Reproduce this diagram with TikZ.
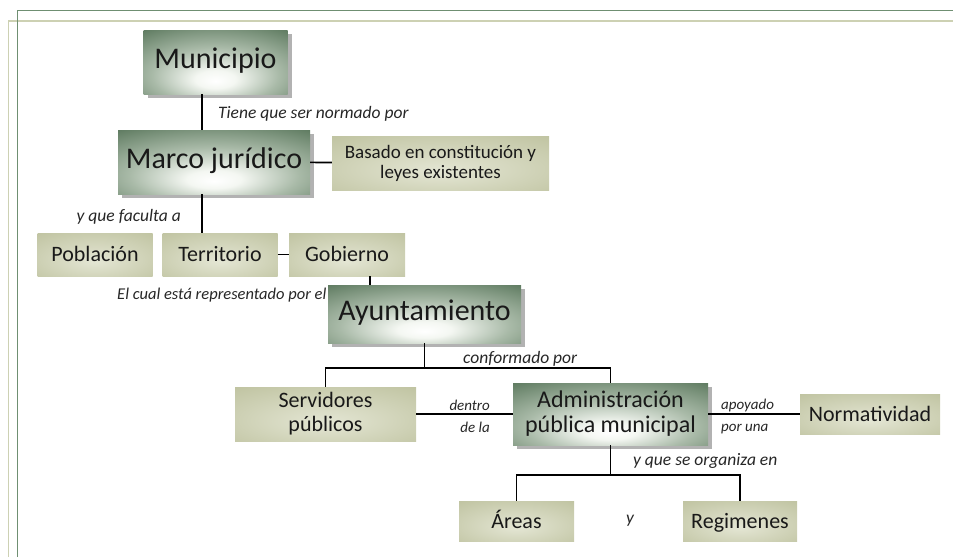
\documentclass[tikz,border=0pt]{standalone}
\usepackage{fontspec}
\setmainfont{Carlito}
\usetikzlibrary{shadows}

\definecolor{deepgreen}{HTML}{466649}
\definecolor{midgreen}{HTML}{A9BAA8}
\definecolor{glowgreen}{HTML}{F4F7F2}
\definecolor{olive}{HTML}{B7BB95}
\definecolor{glowolive}{HTML}{E4E6D4}
\definecolor{framedarkc}{HTML}{6F8F72}
\definecolor{framelightc}{HTML}{CDD1B3}

\pgfdeclareradialshading{greenglow}{\pgfpoint{0bp}{-15bp}}{color(0bp)=(white); color(7bp)=(glowgreen); color(22bp)=(midgreen); color(47bp)=(deepgreen); color(75bp)=(deepgreen)}
\pgfdeclareradialshading{oliveglow}{\pgfpoint{0bp}{-8bp}}{color(0bp)=(glowolive); color(48bp)=(olive); color(75bp)=(olive)}

\tikzset{
		dark/.style={shade, shading=greenglow, inner sep=2pt, text=black!90, align=center,
			drop shadow={shadow xshift=4pt, shadow yshift=-4pt, opacity=0.3, fill=black}},
		light/.style={shade, shading=oliveglow, inner sep=2pt, text=black!90, align=center,
			font=\fontsize{22}{24}\selectfont},
		short/.style={light, text height=16pt, text depth=2pt},
		big/.style={font=\fontsize{30}{32}\selectfont, text height=20pt, text depth=7pt},
		note/.style={font=\fontsize{17.5}{19}\selectfont\itshape, text=black!85, inner sep=0pt},
		link/.style={black, line width=1.6pt},
		framedark/.style={framedarkc, line width=1.8pt},
		framelight/.style={framelightc, line width=1.6pt}
	}

\begin{document}
\begin{tikzpicture}[x=1pt, y=-1pt]
	
	\useasboundingbox (0,0) rectangle (953,557);
	
	\draw[framelight] (8.5,557) |- (953,21);
	\draw[framedark] (17.5,557) |- (953,10.5);
	
	\node (muni) at (215.5,62) [dark, big, minimum width=144pt, minimum height=64pt] {Municipio};
	\node (marco) at (214,162) [dark, big, minimum width=192pt, minimum height=64pt] {Marco jurídico};
	\node (basado) at (440.5,163) [light, minimum width=217pt, minimum height=54pt, font=\fontsize{19}{20}\selectfont] {Basado en constitución y\\leyes existentes};
	
	\node (pobl) at (95,254.5) [short, minimum width=115pt, minimum height=43pt] {Población};
	\node (terr) at (220,254.5) [short, minimum width=115pt, minimum height=43pt] {Territorio};
	\node (gob) at (347,254.5) [short, minimum width=116pt, minimum height=43pt] {Gobierno};
	
	\node (ayunt) at (424.5,314) [dark, big, minimum width=193pt, minimum height=58pt] {Ayuntamiento};
	
	\node (serv) at (325.5,414) [light, minimum width=181pt, minimum height=54pt] {Servidores\\públicos};
	\node (admin) at (610.5,414) [dark, minimum width=195pt, minimum height=62pt, font=\fontsize{24}{25}\selectfont] {Administración\\pública municipal};
	\node (norma) at (870,414) [short, minimum width=140pt, minimum height=40pt] {Normatividad};
	
	\node (areas) at (516.5,521) [short, minimum width=115pt, minimum height=40pt] {Áreas};
	\node (reg) at (740,521) [short, minimum width=114pt, minimum height=40pt] {Regimenes};
	
	\node (normado) at (218,114) [note, anchor=west] {Tiene que ser normado por};
	\node (faculta) at (181,217) [note, anchor=east] {y que faculta a};
	\node (repres) at (117,295) [note, anchor=west, font=\fontsize{16.5}{18}\selectfont\itshape] {El cual está representado por el};
	\node (conform) at (463,359) [note, anchor=west] {conformado por};
	\node (dentro) at (490,416) [note, anchor=east, align=right, font=\fontsize{15}{22}\selectfont\itshape] {dentro\\de la};
	\node (apoyo) at (721,416) [note, anchor=west, align=left, font=\fontsize{15}{22}\selectfont\itshape] {apoyado\\por una};
	\node (organiza) at (633,461) [note, anchor=west] {y que se organiza en};
	\node (yy) at (630,521) [note] {y};
	
	\coordinate (spine) at (202,0);
	\coordinate (drop) at (370,0);
	
	\draw[link] (muni.south -| spine) -- (marco.north -| spine);
	\draw[link] (marco.south -| spine) -- (terr.north -| spine);
	\draw[link] (marco) -- (basado);
	\draw[link] (terr) -- (gob);
	\draw[link] (gob.south -| drop) -- (ayunt.north -| drop);
	
	\draw[link] (ayunt.south) -- ++(0,25) coordinate (fork1);
	\draw[link] (serv.north) |- (fork1) -| (admin.north);
	\draw[link] (serv) -- (admin);
	\draw[link] (admin) -- (norma);
	
	\draw[link] (admin.south) -- ++(0,30) coordinate (fork2);
	\draw[link] (areas.north) |- (fork2) -| (reg.north);
	
\end{tikzpicture}
\end{document}
